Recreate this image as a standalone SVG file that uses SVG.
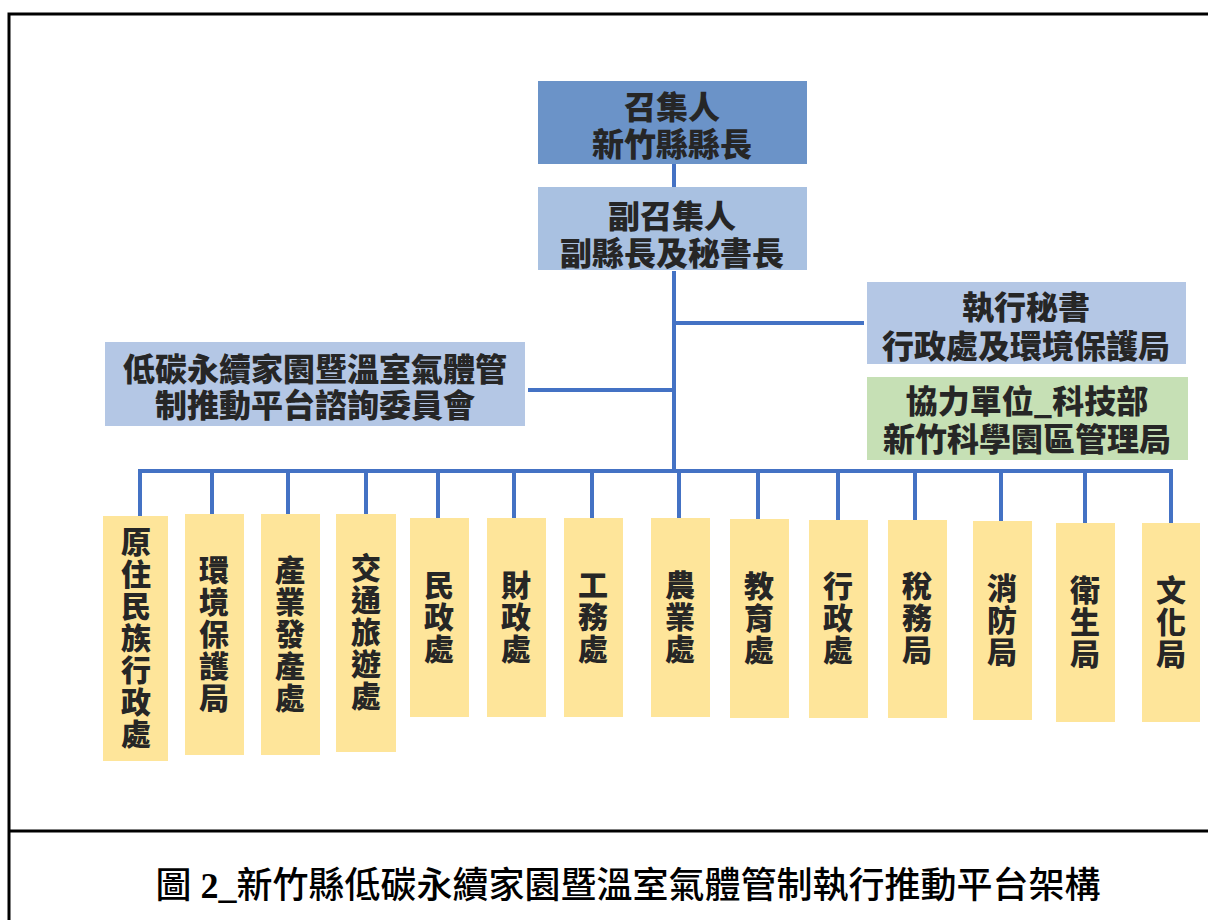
<svg xmlns="http://www.w3.org/2000/svg" width="1208" height="920" viewBox="0 0 1208 920">
<style>
.t{font-family:"Noto Sans CJK TC","Noto Sans CJK SC",sans-serif;font-weight:900;font-size:32px;fill:#262626;text-anchor:middle;dominant-baseline:central}
.v{font-family:"Noto Sans CJK TC","Noto Sans CJK SC",sans-serif;font-weight:900;font-size:30px;fill:#262626;text-anchor:middle;writing-mode:vertical-rl;letter-spacing:2px}
.yb{fill:#fee59a}
.lb{fill:#b4c7e5}
.ln{stroke:#4472c4;stroke-width:4;fill:none}
.fr{stroke:#000;stroke-width:3;fill:none}
.cap{font-family:"Liberation Serif","Noto Sans CJK TC",serif;font-size:36px;font-weight:500;fill:#000;text-anchor:middle}
</style>
<rect width="1208" height="920" fill="#fff"/>
<g id="frame">
<path class="fr" d="M9,920 V14 H1208"/>
<path class="fr" d="M9,831 H1208"/>
</g>
<g id="connectors">
<path class="ln" d="M674,163 V187"/>
<path class="ln" d="M674,271 V471"/>
<path class="ln" d="M674,323 H864"/>
<path class="ln" d="M528,390 H674"/>
<path class="ln" d="M140,516 V471 H1171 V523"/>
<path class="ln" d="M212,471 V514 M288,471 V514 M366,471 V514 M438,471 V518 M514,471 V518 M592,471 V518 M679,471 V518 M758,471 V519 M838,471 V520 M915,471 V520 M1001,471 V521 M1085,471 V523"/>
</g>
<g id="convener">
<rect x="538" y="81" width="269" height="83" fill="#6b93c8"/>
<text class="t" x="672" y="105">召集人</text>
<text class="t" x="672" y="142">新竹縣縣長</text>
</g>
<g id="deputy">
<rect x="538" y="187" width="269" height="83" fill="#a9c1e1"/>
<text class="t" x="672" y="214">副召集人</text>
<text class="t" x="672" y="251">副縣長及秘書長</text>
</g>
<g id="secretary">
<rect class="lb" x="867" y="282" width="319" height="82"/>
<text class="t" x="1026" y="305">執行秘書</text>
<text class="t" x="1026" y="344">行政處及環境保護局</text>
</g>
<g id="partner">
<rect x="867" y="377" width="321" height="83" fill="#c6e0b5"/>
<text class="t" x="1027" y="399">協力單位_科技部</text>
<text class="t" x="1027" y="437">新竹科學園區管理局</text>
</g>
<g id="advisory">
<rect class="lb" x="105" y="342" width="420" height="84"/>
<text class="t" x="315" y="367">低碳永續家園暨溫室氣體管</text>
<text class="t" x="315" y="403">制推動平台諮詢委員會</text>
</g>
<g id="d1"><rect class="yb" x="103" y="516" width="65" height="245"/><text class="v" x="136" y="639">原住民族行政處</text></g>
<g id="d2"><rect class="yb" x="185" y="514" width="59" height="241"/><text class="v" x="214" y="635">環境保護局</text></g>
<g id="d3"><rect class="yb" x="261" y="514" width="59" height="241"/><text class="v" x="290" y="635">產業發產處</text></g>
<g id="d4"><rect class="yb" x="336" y="514" width="60" height="238"/><text class="v" x="366" y="633">交通旅遊處</text></g>
<g id="d5"><rect class="yb" x="410" y="518" width="59" height="199"/><text class="v" x="439" y="618">民政處</text></g>
<g id="d6"><rect class="yb" x="487" y="518" width="59" height="199"/><text class="v" x="516" y="618">財政處</text></g>
<g id="d7"><rect class="yb" x="564" y="518" width="59" height="199"/><text class="v" x="593" y="618">工務處</text></g>
<g id="d8"><rect class="yb" x="651" y="518" width="59" height="199"/><text class="v" x="680" y="618">農業處</text></g>
<g id="d9"><rect class="yb" x="730" y="519" width="59" height="199"/><text class="v" x="759" y="619">教育處</text></g>
<g id="d10"><rect class="yb" x="809" y="520" width="59" height="198"/><text class="v" x="838" y="619">行政處</text></g>
<g id="d11"><rect class="yb" x="888" y="520" width="59" height="198"/><text class="v" x="917" y="619">稅務局</text></g>
<g id="d12"><rect class="yb" x="973" y="521" width="59" height="199"/><text class="v" x="1002" y="621">消防局</text></g>
<g id="d13"><rect class="yb" x="1056" y="523" width="59" height="199"/><text class="v" x="1085" y="623">衛生局</text></g>
<g id="d14"><rect class="yb" x="1142" y="523" width="58" height="199"/><text class="v" x="1171" y="623">文化局</text></g>
<g id="caption">
<text class="cap" x="628" y="898">圖 <tspan font-weight="700">2_</tspan>新竹縣低碳永續家園暨溫室氣體管制執行推動平台架構</text>
</g>
</svg>
